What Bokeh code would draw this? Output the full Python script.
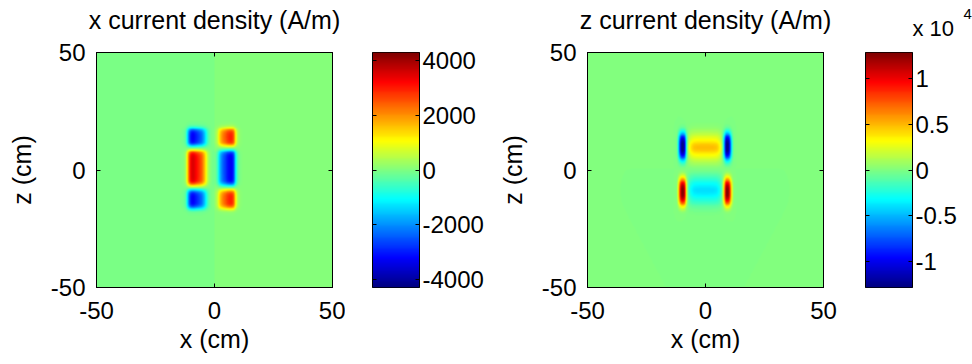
import numpy as np
from bokeh.plotting import figure
from bokeh.models import LinearColorMapper, LinearAxis, Range1d, Title, FixedTicker
from bokeh.layouts import row
from bokeh.embed import file_html
from bokeh.resources import INLINE

# ---------------- data ----------------
titles = ["x current density (A/m)", "z current density (A/m)"]
x_label = "x (cm)"
z_label = "z (cm)"
axis_ticks = [-50, 0, 50]
axis_tick_labels = ["-50", "0", "50"]
axis_limits = [-50, 50]

jx_limits = [-4300, 4300]
jx_ticks = [-4000, -2000, 0, 2000, 4000]
jx_tick_labels = ["-4000", "-2000", "0", "2000", "4000"]

jz_limits = [-12900, 12900]
jz_ticks = [-10000, -5000, 0, 5000, 10000]
jz_tick_labels = ["-1", "-0.5", "0", "0.5", "1"]
jz_scale_text = ["x 10", "4"]

# x current density: faint background (x<0, x>0) and six rectangular patches
jx_background = [-50, 50]
jx_cx = [-7.2, -7.2, -7.2, 5.1, 5.1, 5.1]        # centre x (cm)
jx_cz = [14.0, 0.9, -12.5, 14.0, 0.9, -12.5]     # centre z (cm)
jx_hx = [3.8, 3.8, 3.8, 3.5, 3.5, 3.5]           # half width (cm)
jx_hz = [3.6, 7.3, 3.8, 3.6, 7.3, 3.8]           # half height (cm)
jx_peak = [-3900, 4300, -3900, 3600, -4100, 3600]  # outer-edge value (A/m)
jx_inner = [0.45, 0.45, 0.45, 0.45, 0.45, 0.45]  # inner-edge / outer-edge ratio

# z current density: four end lobes and two central bars
jz_lobe_cx = [-9.7, 9.3, -9.7, 9.3]
jz_lobe_cz = [10.0, 10.0, -9.3, -9.3]
jz_lobe_ax = [1.6, 1.6, 1.6, 1.6]
jz_lobe_az = [5.8, 5.8, 5.8, 5.8]
jz_lobe_peak = [-12900, -12900, 12900, 12900]
jz_bar_cx = [-0.2, -0.2]
jz_bar_cz = [9.6, -8.6]
jz_bar_hx = [7.0, 7.0]
jz_bar_hz = [5.5, 5.5]
jz_bar_plateau = [3400, -3200]
jz_bar_peak = [5000, -4100]

# ---------------- field construction ----------------
grid = np.linspace(-50, 50, 501)
X, Z = np.meshgrid(grid, grid)


def soft_box(d, h, e=0.6):
    return 1.0 / (1.0 + np.exp((np.abs(d) - h) / e))


jx_field = np.where(X < 0, jx_background[0], jx_background[1]).astype(float)
for cx, cz, hx, hz, pk, ratio in zip(jx_cx, jx_cz, jx_hx, jx_hz, jx_peak, jx_inner):
    u = np.clip((X - cx) / hx, -1, 1)
    d = np.sign(cx)
    ramp = 1 - (1 - ratio) * (1 - d * u) / 2
    jx_field += pk * ramp * soft_box(X - cx, hx) * soft_box(Z - cz, hz)

jz_field = np.zeros_like(X)
for cx, cz, ax_, az_, pk in zip(jz_lobe_cx, jz_lobe_cz, jz_lobe_ax, jz_lobe_az, jz_lobe_peak):
    jz_field += pk * np.exp(-np.abs((X - cx) / ax_) ** 2.5 - np.abs((Z - cz) / az_) ** 3)
for cx, cz, hx, hz, pl, pk in zip(jz_bar_cx, jz_bar_cz, jz_bar_hx, jz_bar_hz,
                                  jz_bar_plateau, jz_bar_peak):
    across = soft_box(X - cx, hx, 0.8)
    profile = pl * soft_box(Z - cz, hz, 1.5) + (pk - pl) * np.exp(-0.5 * ((Z - cz) / 2.0) ** 2)
    jz_field += across * profile


# ---------------- style ----------------
def jet(n=256):
    t = np.linspace(0, 1, n)
    r = np.clip(1.5 - np.abs(4 * t - 3), 0, 1)
    g = np.clip(1.5 - np.abs(4 * t - 2), 0, 1)
    b = np.clip(1.5 - np.abs(4 * t - 1), 0, 1)
    return ["#%02x%02x%02x" % (int(round(a * 255)), int(round(c * 255)), int(round(e * 255)))
            for a, c, e in zip(r, g, b)]


JET = jet()
FONT = "Liberation Sans"
TICK_SIZE = "24px"
LABEL_SIZE = "25px"
H = 364


def style_axis(ax, ticks, labels=None):
    ax.ticker = FixedTicker(ticks=ticks)
    ax.major_tick_in = 4
    ax.major_tick_out = 0
    ax.minor_tick_line_color = None
    ax.axis_line_color = "black"
    ax.major_tick_line_color = "black"
    ax.major_label_text_font = FONT
    ax.major_label_text_color = "black"
    ax.major_label_text_font_size = TICK_SIZE
    ax.axis_label_text_font = FONT
    ax.axis_label_text_font_size = LABEL_SIZE
    ax.axis_label_text_font_style = "normal"
    ax.axis_label_text_color = "black"
    if labels is None:
        ax.major_label_overrides = {t: "" for t in ticks}
        ax.major_label_standoff = 0
    else:
        ax.major_label_overrides = {t: l for t, l in zip(ticks, labels)}


def main_fig(title, field, mapper, width, left, right):
    p = figure(width=width, height=H, x_range=Range1d(*axis_limits), y_range=Range1d(*axis_limits),
               min_border_left=left, min_border_right=right, min_border_top=52, min_border_bottom=77,
               output_backend="svg", toolbar_location=None)
    p.image(image=[field], x=axis_limits[0], y=axis_limits[0],
            dw=axis_limits[1] - axis_limits[0], dh=axis_limits[1] - axis_limits[0],
            color_mapper=mapper)
    p.grid.visible = False
    p.outline_line_color = "black"
    p.outline_line_alpha = 1
    p.xaxis.axis_label = x_label
    p.yaxis.axis_label = z_label
    for ax in p.xaxis + p.yaxis:
        style_axis(ax, axis_ticks, axis_tick_labels)
    p.xaxis.major_label_standoff = 14
    p.xaxis.axis_label_standoff = 3
    p.yaxis.major_label_standoff = 11
    p.yaxis.axis_label_standoff = 12
    # top axis carries the panel title as its axis label
    top = LinearAxis()
    rgt = LinearAxis()
    style_axis(top, axis_ticks)
    style_axis(rgt, axis_ticks)
    top.axis_label = title
    top.axis_label_standoff = 19
    p.add_layout(top, "above")
    p.add_layout(rgt, "right")
    return p


def bar_fig(limits, ticks, labels, mapper, width, left, right):
    c = figure(width=width, height=H, x_range=Range1d(0, 1), y_range=Range1d(*limits),
               min_border_left=left, min_border_right=right, min_border_top=51, min_border_bottom=74,
               output_backend="svg", toolbar_location=None,
               x_axis_location=None, y_axis_location="right")
    grad = np.linspace(limits[0], limits[1], 256).reshape(256, 1)
    c.image(image=[grad], x=0, y=limits[0], dw=1, dh=limits[1] - limits[0], color_mapper=mapper)
    c.grid.visible = False
    c.outline_line_color = "black"
    for ax in c.yaxis:
        style_axis(ax, ticks, labels)
        ax.major_label_standoff = 3
    la = LinearAxis()
    style_axis(la, ticks)
    c.add_layout(la, "left")
    return c


jx_mapper = LinearColorMapper(palette=JET, low=jx_limits[0], high=jx_limits[1])
jz_mapper = LinearColorMapper(palette=JET, low=jz_limits[0], high=jz_limits[1])

pa = main_fig(titles[0], jx_field, jx_mapper, 345, 96, 13)
ca = bar_fig(jx_limits, jx_ticks, jx_tick_labels, jx_mapper, 141, 27, 66)
pb = main_fig(titles[1], jz_field, jz_mapper, 354, 101, 17)
cb = bar_fig(jz_limits, jz_ticks, jz_tick_labels, jz_mapper, 132, 25, 60)

# exponent (outer title) and "x 10" (inner title) above the right colour bar
cb.title.text = jz_scale_text[1]
cb.title.text_font = FONT
cb.title.text_font_size = "15px"
cb.title.text_font_style = "normal"
cb.title.text_color = "black"
cb.title.align = "left"
cb.title.offset = 98
cb.title.standoff = -34
cb.add_layout(Title(text=jz_scale_text[0], text_font=FONT, text_font_size="22px",
                    text_font_style="normal", text_color="black", align="left",
                    offset=47, standoff=24), "above")

layout = row(pa, ca, pb, cb, spacing=0)
open("out.html", "w").write(file_html(layout, INLINE))
